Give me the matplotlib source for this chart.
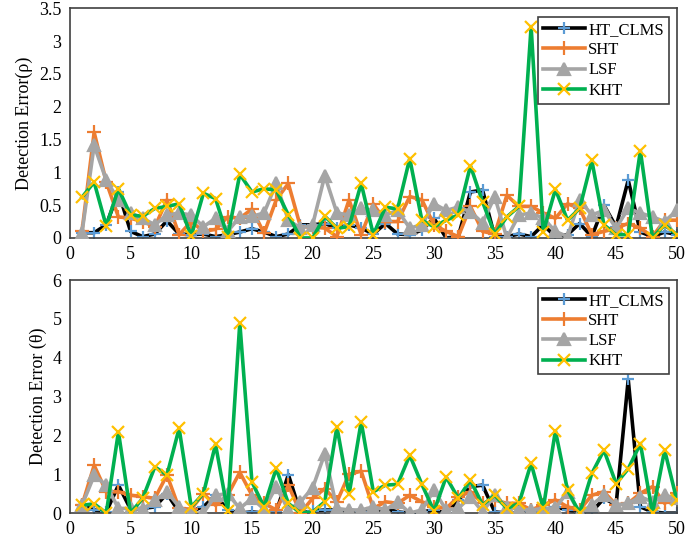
import numpy as np
import matplotlib
matplotlib.use('Agg')
import matplotlib.pyplot as plt
from matplotlib.ticker import FuncFormatter

plt.rcParams['font.family'] = ['Liberation Serif', 'DejaVu Serif']

x = np.arange(1, 51)

# top panel: detection error (rho)
ht_rho = [0.08, 0.08, 0.2, 0.7, 0.1, 0.02, 0.06, 0.26, 0.06, 0.05,
          0.06, 0.02, 0.05, 0.09, 0.14, 0.09, 0.02, 0.06, 0.2, 0.2,
          0.22, 0.15, 0.2, 0.15, 0.06, 0.22, 0.06, 0.05, 0.12, 0.3,
          0.0, 0.02, 0.7, 0.73, 0.02, 0.02, 0.06, 0.02, 0.2, 0.02,
          0.05, 0.22, 0.02, 0.5, 0.17, 0.88, 0.09, 0.02, 0.09, 0.05]
sht_rho = [0.1, 1.61, 0.85, 0.32, 0.3, 0.25, 0.17, 0.58, 0.05, 0.25,
           0.1, 0.13, 0.32, 0.3, 0.44, 0.07, 0.58, 0.83, 0.17, 0.17,
           0.15, 0.02, 0.58, 0.05, 0.52, 0.25, 0.25, 0.63, 0.58, 0.2,
           0.1, 0.02, 0.48, 0.1, 0.06, 0.65, 0.48, 0.48, 0.38, 0.3,
           0.52, 0.45, 0.05, 0.1, 0.15, 0.22, 0.15, 0.02, 0.27, 0.27]
lsf_rho = [0.08, 1.41, 0.88, 0.58, 0.38, 0.3, 0.2, 0.35, 0.38, 0.35,
           0.17, 0.3, 0.1, 0.32, 0.33, 0.38, 0.83, 0.27, 0.15, 0.2,
           0.95, 0.38, 0.35, 0.45, 0.42, 0.35, 0.42, 0.15, 0.2, 0.52,
           0.42, 0.47, 0.4, 0.23, 0.63, 0.0, 0.35, 0.38, 0.3, 0.1,
           0.02, 0.58, 0.35, 0.42, 0.15, 0.45, 0.38, 0.32, 0.25, 0.42]
kht_rho = [0.62, 0.85, 0.18, 0.75, 0.35, 0.33, 0.45, 0.48, 0.52, 0.03,
           0.68, 0.6, 0.02, 0.97, 0.7, 0.75, 0.73, 0.35, 0.0, 0.0,
           0.33, 0.15, 0.17, 0.83, 0.05, 0.47, 0.44, 1.21, 0.27, 0.17,
           0.27, 0.35, 1.1, 0.55, 0.06, 0.32, 0.48, 3.22, 0.09, 0.74,
           0.27, 0.45, 1.18, 0.2, 0.05, 0.05, 1.33, 0.0, 0.2, 0.05]

# bottom panel: detection error (theta)
ht_th = [0.2, 0.08, 0.03, 0.72, 0.1, 0.12, 0.16, 0.5, 0.03, 0.05,
         0.16, 0.46, 0.08, 0.0, 0.03, 0.0, 0.03, 0.99, 0.0, 0.05,
         0.08, 0.08, 0.08, 0.03, 0.03, 0.12, 0.03, 0.0, 0.03, 0.08,
         0.0, 0.33, 0.68, 0.72, 0.03, 0.0, 0.0, 0.03, 0.08, 0.16,
         0.08, 0.0, 0.03, 0.38, 0.21, 3.44, 0.16, 0.03, 0.0, 0.0]
sht_th = [0.2, 1.23, 0.55, 0.55, 0.46, 0.42, 0.38, 0.98, 0.12, 0.1,
          0.5, 0.2, 0.46, 1.05, 0.46, 0.25, 0.08, 0.72, 0.0, 0.38,
          0.63, 0.29, 1.0, 1.08, 0.12, 0.29, 0.25, 0.46, 0.29, 0.16,
          0.12, 0.42, 0.55, 0.25, 0.34, 0.25, 0.25, 0.08, 0.21, 0.34,
          0.16, 0.08, 0.46, 0.55, 0.21, 0.25, 0.51, 0.68, 0.25, 0.51]
lsf_th = [0.2, 0.97, 0.72, 0.12, 0.12, 0.1, 0.33, 0.55, 0.16, 0.0,
          0.0, 0.46, 0.5, 0.12, 0.38, 0.1, 0.68, 0.08, 0.29, 0.65,
          1.53, 0.12, 0.08, 0.08, 0.16, 0.08, 0.29, 0.0, 0.08, 0.59,
          0.08, 0.12, 0.42, 0.03, 0.46, 0.16, 0.1, 0.08, 0.12, 0.12,
          0.55, 0.0, 0.21, 0.46, 0.21, 0.25, 0.42, 0.29, 0.46, 0.38]
kht_th = [0.2, 0.24, 0.0, 2.09, 0.0, 0.38, 1.19, 0.98, 2.18, 0.16,
          0.5, 1.77, 0.05, 4.9, 0.8, 0.16, 1.15, 0.25, 0.0, 0.03,
          0.29, 2.22, 0.48, 2.35, 0.55, 0.72, 0.74, 1.49, 0.74, 0.05,
          0.93, 0.38, 0.85, 0.21, 0.46, 0.12, 0.25, 1.28, 0.12, 2.12,
          0.59, 0.0, 1.02, 1.62, 0.76, 1.14, 1.79, 0.0, 1.62, 0.34]

names = ['HT_CLMS', 'SHT', 'LSF', 'KHT']
line_colors = ['black', '#ED7D31', '#A5A5A5', '#00B050']
marker_colors = ['#5B9BD5', '#ED7D31', '#A5A5A5', '#FFC000']
markers = ['+', '+', '^', 'x']
msizes = [8, 10, 8, 9]


def fmt(v, pos):
    return ('%g' % v)


fig = plt.figure(figsize=(6.85, 5.47), dpi=100)
ax1 = fig.add_axes([0.102, 0.565, 0.886, 0.42])
ax2 = fig.add_axes([0.102, 0.062, 0.886, 0.426])

panels = [(ax1, [ht_rho, sht_rho, lsf_rho, kht_rho], 3.5, 0.5, 'Detection Error(ρ)', 0.961),
          (ax2, [ht_th, sht_th, lsf_th, kht_th], 6, 1, 'Detection Error (θ)', 0.966)]

for ax, series, ymax, ystep, ylab, legtop in panels:
    for i, ys in enumerate(series):
        ax.plot(x, ys, color=line_colors[i], lw=2.6, marker=markers[i],
                ms=msizes[i], mec=marker_colors[i], mfc=marker_colors[i],
                mew=1.6, label=names[i], zorder=2 + i)
    ax.set_xlim(0, 50)
    ax.set_ylim(0, ymax)
    ax.set_xticks(np.arange(0, 51, 5))
    ax.set_yticks(np.arange(0, ymax + 0.001, ystep))
    ax.yaxis.set_major_formatter(FuncFormatter(fmt))
    ax.tick_params(length=0, labelsize=13, pad=6)
    for s in ax.spines.values():
        s.set_color('#404040')
        s.set_linewidth(1.2)
    ax.set_ylabel(ylab, fontsize=13, labelpad=4)
    leg = ax.legend(loc='upper right', fontsize=12, frameon=True, fancybox=False,
                    edgecolor='#404040', handlelength=2.5, handletextpad=0.2,
                    labelspacing=0.25, borderpad=0.3, borderaxespad=0,
                    framealpha=1, bbox_to_anchor=(0.987, legtop))
    leg.get_frame().set_linewidth(1.2)
    leg.set_zorder(10)

fig.savefig('out.png', dpi=100)
